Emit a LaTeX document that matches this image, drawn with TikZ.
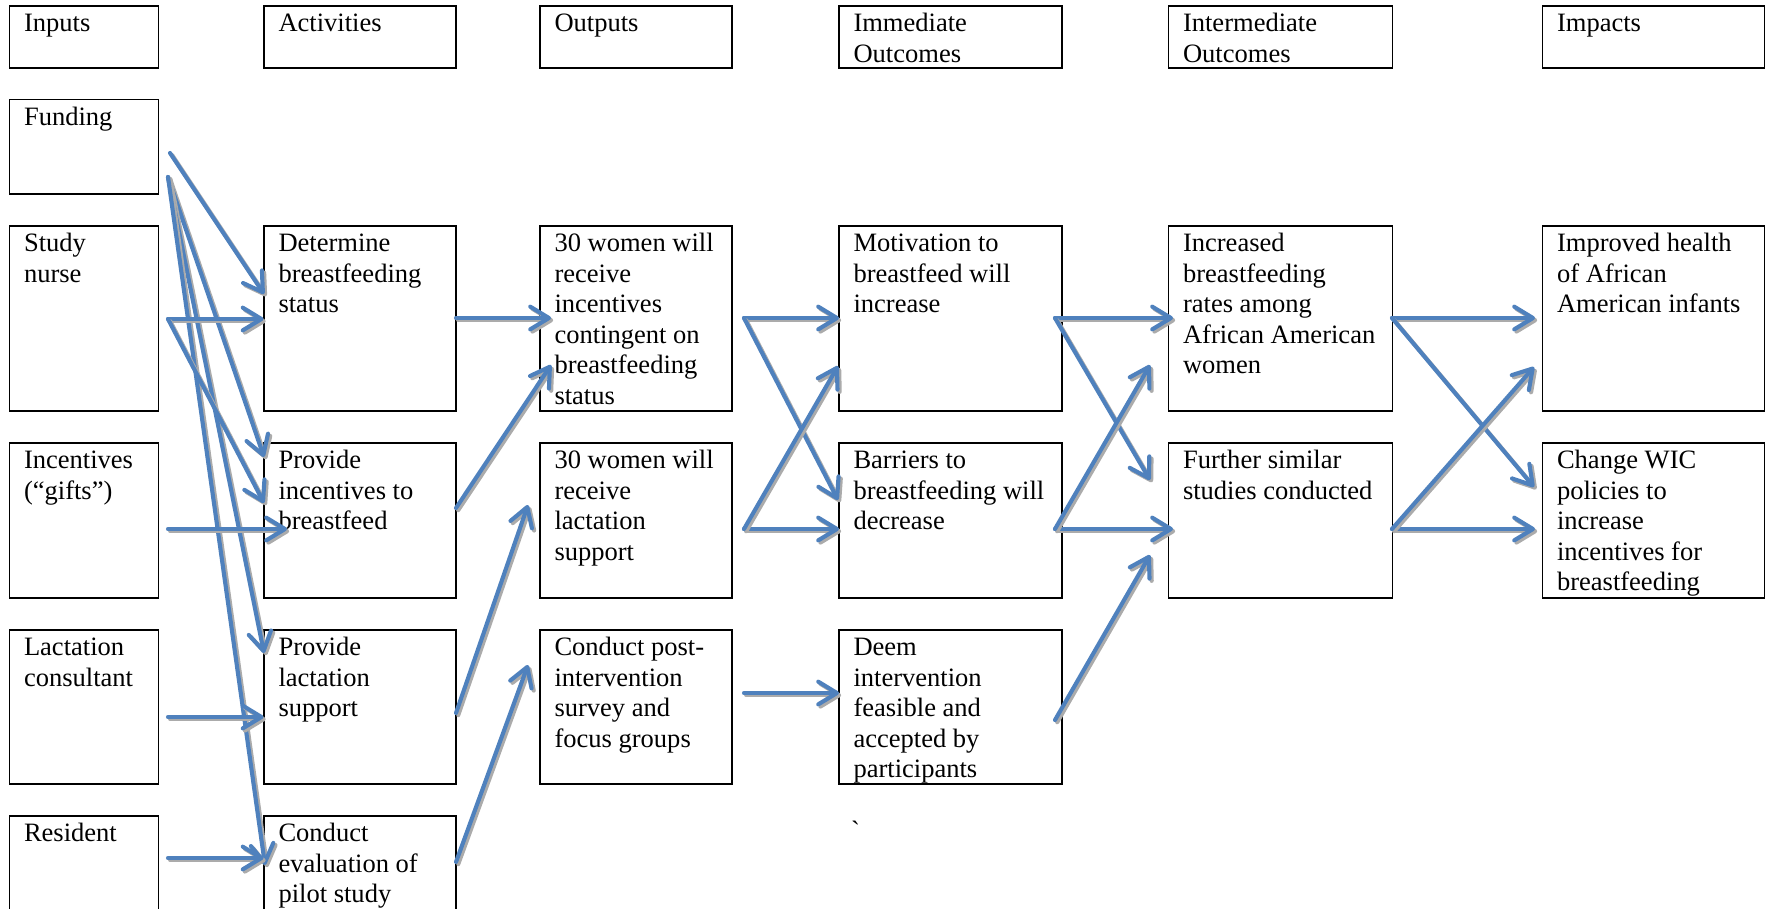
\documentclass[tikz,border=0pt]{standalone}
\usepackage{fontspec}
\setmainfont{Liberation Serif}
\newfontfamily\rawserif{Liberation Serif}[Ligatures=TeXOff]
\usetikzlibrary{arrows.meta,fit}
\definecolor{arrblue}{HTML}{4F81BD}
\definecolor{shadegray}{HTML}{ABABAB}
\newcommand{\lmbox}[6]{%
  \node[box, fit={(#2,#3) (#4,#5)}] (#1) {};
  \node[txt] (#1-t) at (#2+14.5,#3+25.5) {\parbox[t]{300pt}{\raggedright #6}};
}
\newcommand{\lmarrow}[2]{%
  \draw[arrshadow] ([shift={(2.2,2.2)}]#1) -- ([shift={(2.2,2.2)}]#2);
  \draw[arr] (#1) -- (#2);
}
\begin{document}
\begin{tikzpicture}[x=0.75pt,y=-0.75pt,
  box/.style={draw=black, line width=1.2pt, inner sep=0pt, outer sep=0pt, rectangle},
  txt/.style={anchor=base west, inner sep=0pt, outer sep=0pt, font=\fontsize{19.9}{22.9}\selectfont},
  tipstyle/.style={-{Straight Barb[length=14pt,width=17pt,round]}},
  arr/.style={draw=arrblue, line width=3.1pt, line cap=round, line join=round, tipstyle},
  arrshadow/.style={draw=shadegray, line width=3.1pt, line cap=round, line join=round, tipstyle}
]
\useasboundingbox (0,0) rectangle (1766,908);
\clip (0,0) rectangle (1766,908);

% headers
\lmbox{hin}{9.5}{6}{158.5}{68}{Inputs}
\lmbox{hact}{264}{6}{456}{68}{Activities}
\lmbox{hout}{540}{6}{732}{68}{Outputs}
\lmbox{himm}{839}{6}{1062}{68}{Immediate\\Outcomes}
\lmbox{hint}{1168.5}{6}{1392.5}{68}{Intermediate\\Outcomes}
\lmbox{himp}{1542.5}{6}{1764.5}{68}{Impacts}

% inputs
\lmbox{fund}{9.5}{99.5}{158.5}{194}{Funding}
\lmbox{sn}{9.5}{226}{158.5}{411}{Study\\nurse}
\lmbox{inc}{9.5}{443}{158.5}{598}{Incentives\\(“gifts”)}
\lmbox{lac}{9.5}{630}{158.5}{784}{Lactation\\consultant}
\lmbox{res}{9.5}{816}{158.5}{940}{Resident}

% activities
\lmbox{det}{264}{226}{456}{411}{Determine\\breastfeeding\\status}
\lmbox{pinc}{264}{443}{456}{598}{Provide\\incentives to\\breastfeed}
\lmbox{plac}{264}{630}{456}{784}{Provide\\lactation\\support}
\lmbox{ceval}{264}{816}{456}{940}{Conduct\\evaluation of\\pilot study}

% outputs
\lmbox{out1}{540}{226}{732}{411}{30 women will\\receive\\incentives\\contingent on\\breastfeeding\\status}
\lmbox{out2}{540}{443}{732}{598}{30 women will\\receive\\lactation\\support}
\lmbox{out3}{540}{630}{732}{784}{Conduct post-\\intervention\\survey and\\focus groups}

% immediate outcomes
\lmbox{imm1}{839}{226}{1062}{411}{Motivation to\\breastfeed will\\increase}
\lmbox{imm2}{839}{443}{1062}{598}{Barriers to\\breastfeeding will\\decrease}
\lmbox{imm3}{839}{630}{1062}{784}{Deem\\intervention\\feasible and\\accepted by\\participants}

% intermediate outcomes
\lmbox{int1}{1168.5}{226}{1392.5}{411}{Increased\\breastfeeding\\rates among\\African American\\women}
\lmbox{int2}{1168.5}{443}{1392.5}{598}{Further similar\\studies conducted}

% impacts
\lmbox{imp1}{1542.5}{226}{1764.5}{411}{Improved health\\of African\\American infants}
\lmbox{imp2}{1542.5}{443}{1764.5}{598}{Change WIC\\policies to\\increase\\incentives for\\breastfeeding}

% stray mark
\node[txt] (stray) at (851,839) {\rawserif\symbol{"60}};

% connector end points
\coordinate (fundA) at (170,153);
\coordinate (fundB) at (168,177);
\coordinate (snO) at (168,319);
\coordinate (incO) at (168,529);
\coordinate (lacO) at (168,717);
\coordinate (resO) at (168,858);
\coordinate (detI1) at (264,294);
\coordinate (detI2) at (263.5,319);
\coordinate (pincI1) at (264,457);
\coordinate (pincI2) at (264,503);
\coordinate (pincI3) at (287,529);
\coordinate (placI1) at (264,653);
\coordinate (placI2) at (263.5,717);
\coordinate (cevalI1) at (265,865);
\coordinate (cevalI2) at (263.5,858);
\coordinate (detO) at (456,318);
\coordinate (pincO) at (456,508);
\coordinate (placO) at (456,713);
\coordinate (cevalO) at (456,862);
\coordinate (out1I1) at (551,318);
\coordinate (out1I2) at (551,365);
\coordinate (out2I) at (528,505);
\coordinate (out3I) at (528,665);
\coordinate (out1O) at (744,318);
\coordinate (out2O) at (744,529);
\coordinate (out3O) at (744,693);
\coordinate (imm1I1) at (839,318);
\coordinate (imm1I2) at (838,366);
\coordinate (imm2I1) at (838,500);
\coordinate (imm2I2) at (839,529);
\coordinate (imm3I) at (839,693);
\coordinate (imm1O) at (1055,318);
\coordinate (imm2O) at (1055,529);
\coordinate (imm3O) at (1055,720);
\coordinate (int1I1) at (1173,318);
\coordinate (int1I2) at (1150,365);
\coordinate (int2I1) at (1150,480);
\coordinate (int2I2) at (1173,529);
\coordinate (int2I3) at (1150,555);
\coordinate (int1O) at (1392,318);
\coordinate (int2O) at (1392,529);
\coordinate (imp1I1) at (1535,318);
\coordinate (imp1I2) at (1534,367);
\coordinate (imp2I1) at (1534,487);
\coordinate (imp2I2) at (1535,529);

% inputs -> activities
\lmarrow{fundA}{detI1}
\lmarrow{fundB}{pincI1}
\lmarrow{fundB}{placI1}
\lmarrow{fundB}{cevalI1}
\lmarrow{snO}{detI2}
\lmarrow{snO}{pincI2}
\lmarrow{incO}{pincI3}
\lmarrow{lacO}{placI2}
\lmarrow{resO}{cevalI2}

% activities -> outputs
\lmarrow{detO}{out1I1}
\lmarrow{pincO}{out1I2}
\lmarrow{placO}{out2I}
\lmarrow{cevalO}{out3I}

% outputs -> immediate
\lmarrow{out1O}{imm1I1}
\lmarrow{out1O}{imm2I1}
\lmarrow{out2O}{imm2I2}
\lmarrow{out2O}{imm1I2}
\lmarrow{out3O}{imm3I}

% immediate -> intermediate
\lmarrow{imm1O}{int1I1}
\lmarrow{imm1O}{int2I1}
\lmarrow{imm2O}{int2I2}
\lmarrow{imm2O}{int1I2}
\lmarrow{imm3O}{int2I3}

% intermediate -> impacts
\lmarrow{int1O}{imp1I1}
\lmarrow{int1O}{imp2I1}
\lmarrow{int2O}{imp2I2}
\lmarrow{int2O}{imp1I2}
\end{tikzpicture}
\end{document}
